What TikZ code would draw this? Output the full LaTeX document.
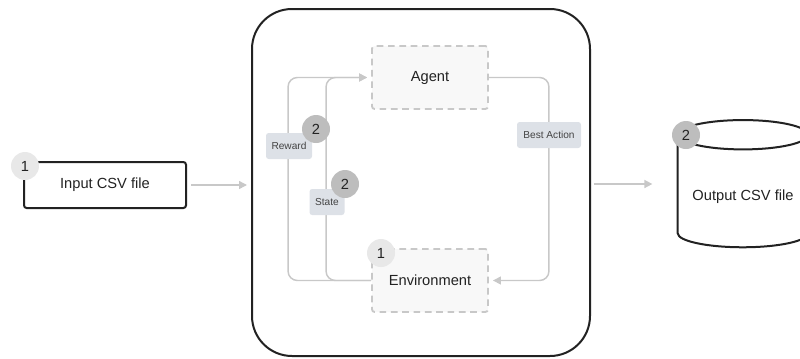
\documentclass[tikz,border=0pt]{standalone}
\usepackage{fontspec}
\setmainfont{Liberation Sans}
\usetikzlibrary{arrows.meta}
\definecolor{ink}{HTML}{222222}
\definecolor{linegray}{HTML}{C8C8C8}
\definecolor{dashgray}{HTML}{C8C8C8}
\definecolor{boxfill}{HTML}{F8F8F8}
\definecolor{tagfill}{HTML}{DDE1E7}
\definecolor{numlight}{HTML}{E8E8E8}
\definecolor{numdark}{HTML}{BDBDBD}

\begin{document}
\begin{tikzpicture}[x=0.75pt,y=-0.75pt]
    \tikzset{every node/.style={font=\fontsize{11}{13}\selectfont, text=ink}}
    \tikzset{solidbox/.style={draw=ink, line width=1.5pt, rounded corners=2pt, minimum width=121.5pt, minimum height=34.5pt}}
    \tikzset{dashbox/.style={draw=dashgray, line width=1.4pt, dash pattern=on 5pt off 3.5pt, fill=boxfill, rounded corners=2pt, minimum width=87pt, minimum height=47.25pt}}
    \tikzset{tag/.style={fill=tagfill, rounded corners=2pt, font=\fontsize{7.6}{9}\selectfont, text=ink!85, minimum height=19.5pt, inner xsep=2pt}}
    \tikzset{num/.style={circle, minimum size=21pt, inner sep=0pt}}
    \tikzset{flow/.style={draw=linegray, line width=1.1pt, rounded corners=7pt, shorten >=3pt, -{Triangle[length=6pt,width=6pt]}}}

    \useasboundingbox (0,0) rectangle (800,358);
    \clip (0,0) rectangle (800,358);

    \node[draw=ink, line width=1.5pt, rounded corners=30pt, minimum width=253.5pt, minimum height=260.25pt] (rl) at (421,182.5) {};
    \node[dashbox] (agent) at (430,77.5) {Agent};
    \node[dashbox] (env) at (430,280.5) {Environment};
    \node[solidbox] (input) at (105,185) {Input CSV file};

    % output file drawn as a drum
    \node[minimum width=97.5pt, minimum height=73.5pt] (output) at (743,184) {};
    \draw[ink, line width=1.5pt] (output.north west) -- (output.south west) arc[start angle=180, end angle=360, x radius=48.75pt, y radius=10.5pt] -- (output.north east);
    \draw[ink, line width=1.5pt] (output.north) ellipse [x radius=48.75pt, y radius=11pt];
    \node (outtext) at (743,197) {Output CSV file};

    \draw[flow] (env.west) -- ++(-83,0) |- (agent.west);
    \draw[flow] (env.west) -- ++(-45,0) |- (agent.west);
    \draw[flow] (agent.east) -- ++(60,0) |- (env.east);

    \draw[flow, shorten <=3pt] (input.east) -- (input.east -| rl.west);
    \draw[flow, shorten <=2pt, shorten >=19pt] (output.west -| rl.east) -- (output.west);

    \node[tag, minimum width=34.5pt] (reward) at (289,146) {Reward};
    \node[tag, minimum width=26.25pt] (state) at (327,202) {State};
    \node[tag, minimum width=48pt] (best) at (549,135) {Best Action};

    \node[num, fill=numlight] (oneinput) at (25,166) {1};
    \node[num, fill=numlight] (oneenv) at (381,253) {1};
    \node[num, fill=numdark] (tworeward) at (316,129) {2};
    \node[num, fill=numdark] (twostate) at (345,184) {2};
    \node[num, fill=numdark] (twooutput) at (686,135) {2};
\end{tikzpicture}
\end{document}
